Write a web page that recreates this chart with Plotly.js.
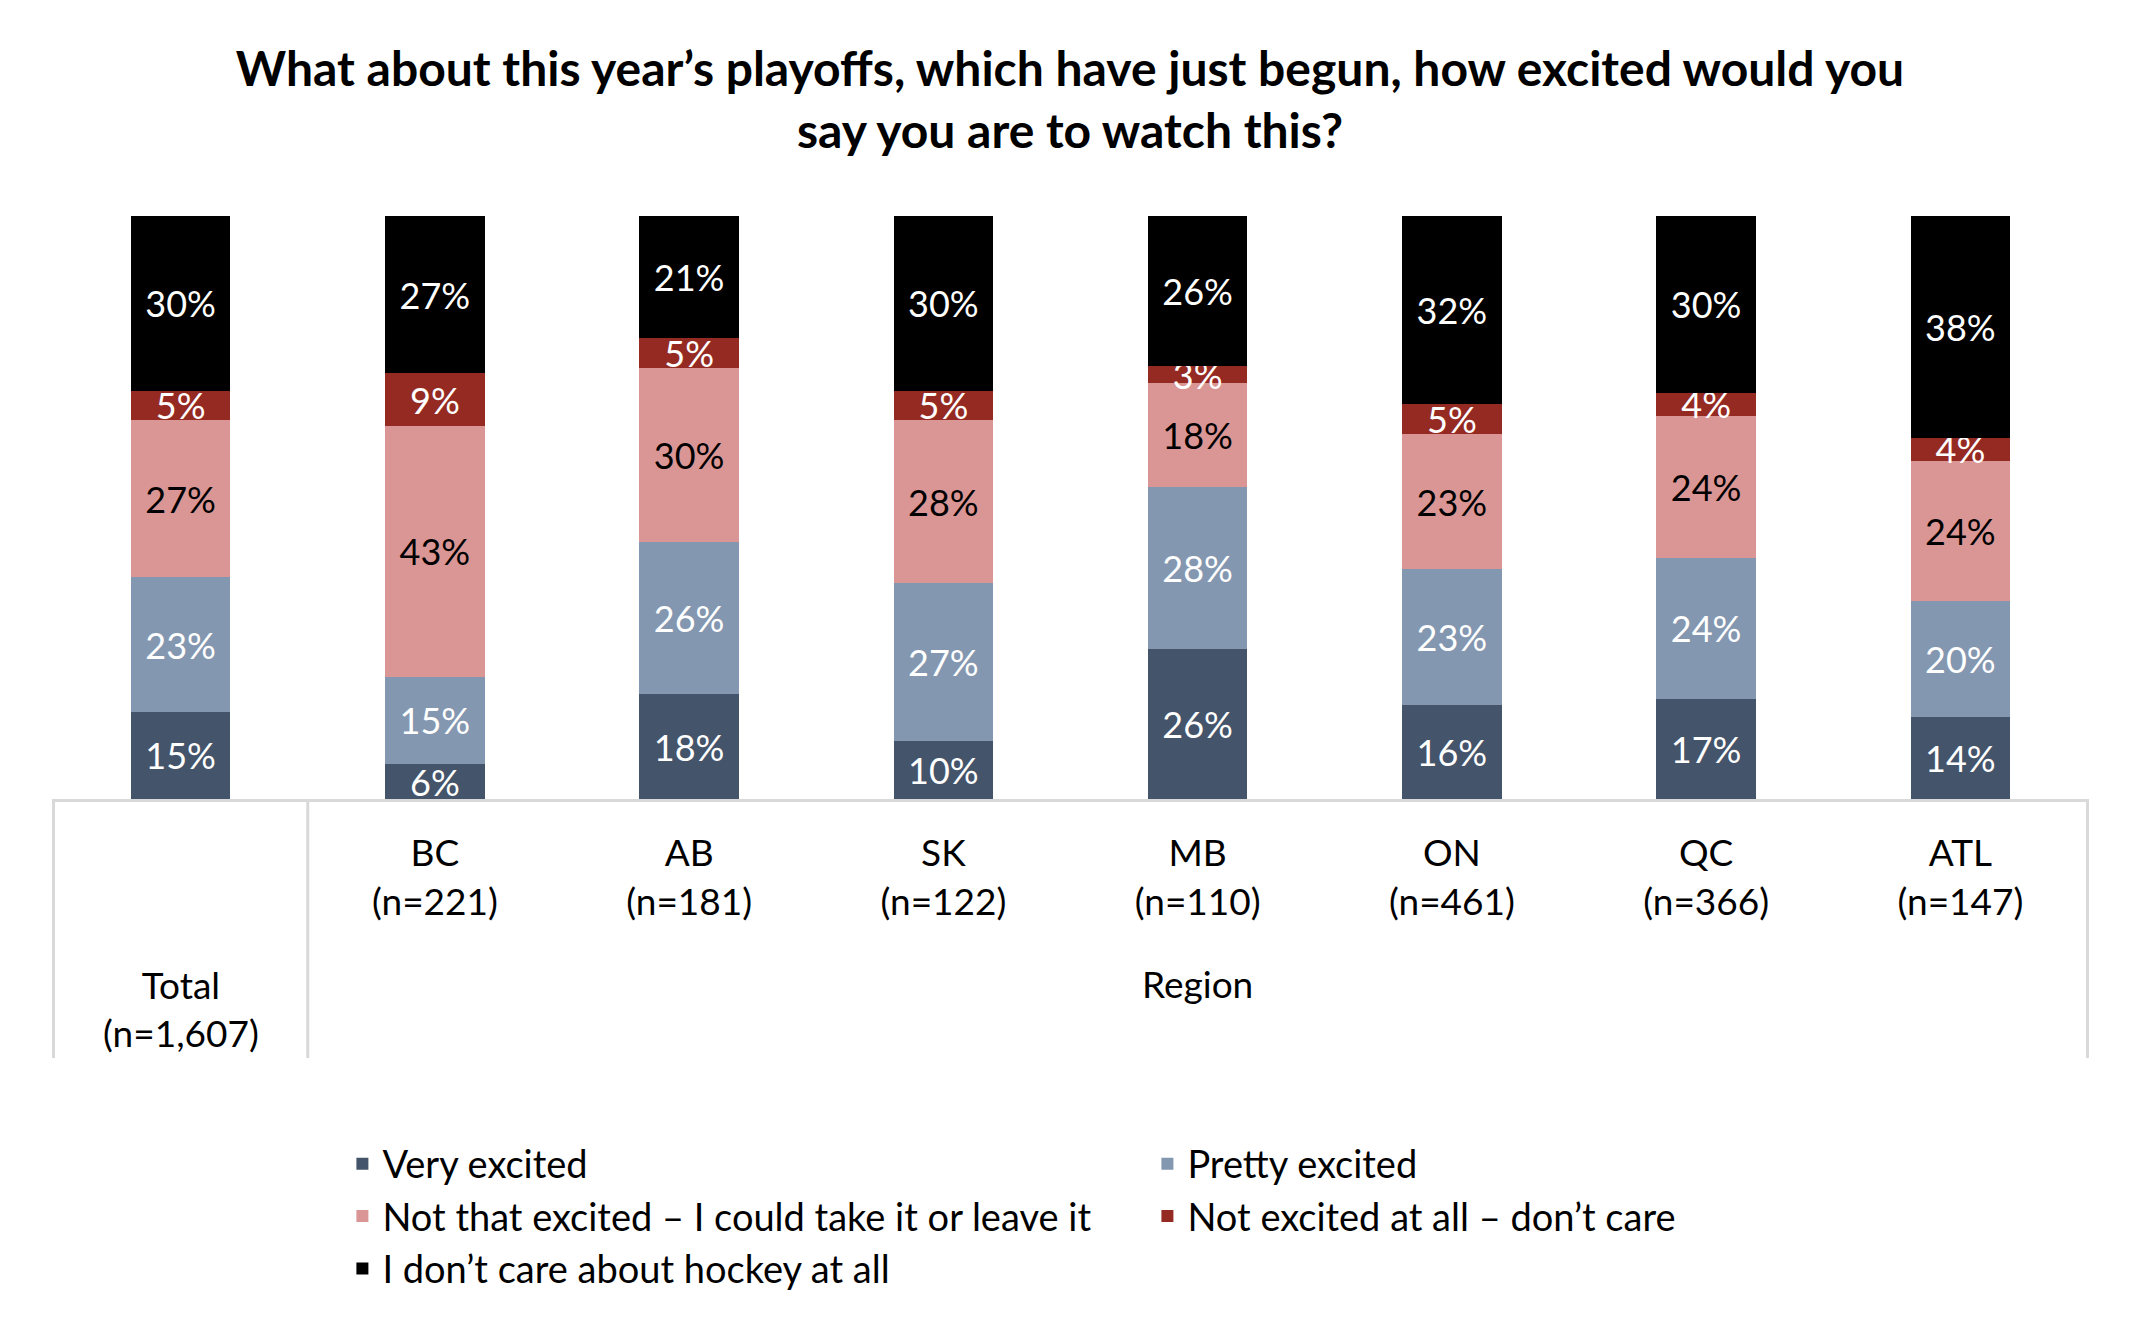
<!DOCTYPE html>
<html><head><meta charset="utf-8">
<script src="https://cdn.plot.ly/plotly-3.0.1.min.js"></script>
<style>html,body{margin:0;padding:0;background:#fff}</style>
</head><body><div id="chart" style="width:2140px;height:1337px"></div>
<script>
const categories  = ["Total","BC","AB","SK","MB","ON","QC","ATL"];
const sampleSizes = ["1,607","221","181","122","110","461","366","147"];
const groupLabel  = "Region";
const veryExcited     = [15, 6,18,10,26,16,17,14];
const prettyExcited   = [23,15,26,27,28,23,24,20];
const notThatExcited  = [27,43,30,28,18,23,24,24];
const notExcitedAtAll = [ 5, 9, 5, 5, 3, 5, 4, 4];
const dontCare        = [30,27,21,30,26,32,30,38];
const seriesNames = ["Very excited","Pretty excited","Not that excited \u2013 I could take it or leave it","Not excited at all \u2013 don\u2019t care","I don\u2019t care about hockey at all"];
const seriesValues = [veryExcited, prettyExcited, notThatExcited, notExcitedAtAll, dontCare];
const seriesColors = ["#44546A","#8497B0","#DA9694","#952A23","#000000"];
const labelColors  = ["#FFFFFF","#FFFFFF","#000000","#FFFFFF","#FFFFFF"];

const FONT = "Lato, 'Open Sans', sans-serif";
const tickText = categories.map((c, i) => i === 0 ? "" : c + "<br>(n=" + sampleSizes[i] + ")");

const traces = seriesValues.map((vals, i) => ({
  type: "bar",
  name: seriesNames[i],
  x: categories,
  y: vals,
  marker: {color: seriesColors[i], line: {width: 0}},
  text: vals.map(v => v + "%"),
  textposition: "inside",
  insidetextanchor: "middle",
  textangle: 0,
  constraintext: "none",
  textfont: {family: FONT, size: 36, color: labelColors[i]},
  hoverinfo: "name+text"
}));

const PLOT_H = 583;
const lineStyle = {color: "#D9D9D9", width: 3};
const tableBottom = -(1058 - 799) / PLOT_H;
const dividerPositions = [-0.5, 0.5, categories.length - 0.5];
const shapes = dividerPositions.map(xv => ({
  type: "line", xref: "x", yref: "paper", x0: xv, x1: xv, y0: 0, y1: tableBottom, line: lineStyle, layer: "below"
}));

const annotations = [
  {xref: "x", yref: "paper", x: categories[0], y: -(1008 - 799) / PLOT_H, yanchor: "middle", xanchor: "center",
   text: categories[0] + "<br>(n=" + sampleSizes[0] + ")", showarrow: false,
   font: {family: FONT, size: 37, color: "#000000"}},
  {xref: "x", yref: "paper", x: categories[4], y: -(983 - 799) / PLOT_H, yanchor: "middle", xanchor: "center",
   text: groupLabel, showarrow: false,
   font: {family: FONT, size: 37, color: "#000000"}}
];

const layout = {
  width: 2140, height: 1337,
  paper_bgcolor: "#FFFFFF", plot_bgcolor: "#FFFFFF",
  font: {family: FONT, color: "#000000"},
  margin: {l: 52, r: 51, t: 216, b: 538, pad: 0},
  title: {
    text: "<b>What about this year\u2019s playoffs, which have just begun, how excited would you<br>say you are to watch this?</b>",
    font: {family: FONT, size: 48, color: "#000000"},
    x: 0.5, xanchor: "center", yref: "container", y: 0.936, yanchor: "top"
  },
  barmode: "stack",
  barnorm: "percent",
  bargap: 0.608,
  xaxis: {
    type: "category",
    tickvals: categories, ticktext: tickText,
    showline: true, linecolor: "#D9D9D9", linewidth: 3,
    ticks: "", showgrid: false, zeroline: false,
    tickfont: {family: FONT, size: 37, color: "#000000"},
    ticklabelstandoff: 20
  },
  yaxis: {range: [0, 100], visible: false, fixedrange: true},
  shapes: shapes,
  annotations: annotations,
  showlegend: true,
  legend: {
    orientation: "h", traceorder: "normal",
    xref: "container", x: 0.160, xanchor: "left",
    yref: "container", y: 0.153, yanchor: "top",
    entrywidth: 760, entrywidthmode: "pixels",
    font: {family: FONT, size: 38, color: "#000000"},
    bgcolor: "rgba(0,0,0,0)"
  }
};
Plotly.newPlot("chart", traces, layout, {displayModeBar: false, staticPlot: true});
</script></body></html>
